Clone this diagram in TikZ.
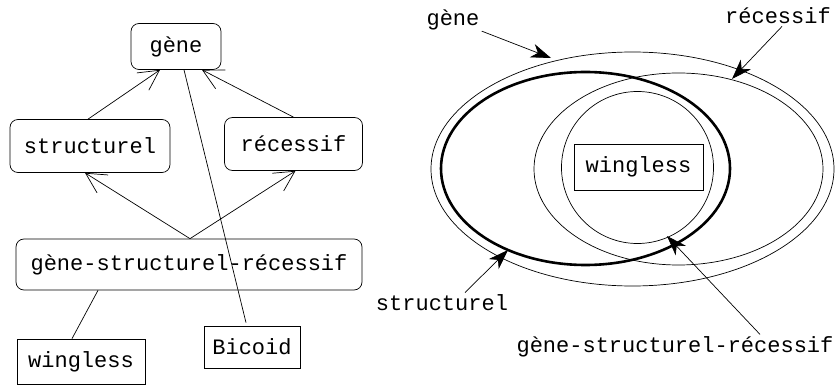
\documentclass[tikz,border=0pt]{standalone}
\usepackage{fontspec}
\setmonofont{Liberation Mono}
\usetikzlibrary{arrows.meta}

\tikzset{
  txt/.style={font=\ttfamily\fontsize{22}{26}\selectfont},
  rbox/.style={txt, draw, rounded corners=8pt, inner sep=0pt},
  sbox/.style={txt, draw, inner sep=0pt},
  lab/.style={txt, inner sep=2pt},
  isa/.style={-{Straight Barb[length=20pt,width=21pt]}},
  pointer/.style={-{Stealth[length=20pt,width=14pt,inset=6pt]}},
}

\begin{document}
\begin{tikzpicture}[x=1pt, y=-1pt, line width=0.7pt]
    \useasboundingbox (0,0) rectangle (836,385);

    % hierarchy
    \node[rbox, minimum width=90pt, minimum height=46pt] (gene) at (176,46.5) {gène};
    \node[rbox, minimum width=160pt, minimum height=53pt] (struct) at (90,146) {structurel};
    \node[rbox, minimum width=138pt, minimum height=53pt] (recess) at (293.5,144) {récessif};
    \node[rbox, minimum width=346pt, minimum height=51pt] (gsr) at (189,264.5) {gène-structurel-récessif};
    \node[sbox, minimum width=128pt, minimum height=45pt] (wing) at (81,361.5) {wingless};
    \node[sbox, minimum width=96pt, minimum height=42pt] (bicoid) at (252,347) {Bicoid};

    \draw[isa] ([xshift=-2pt]struct.north) -- ([xshift=-16pt]gene.south);
    \draw[isa] (recess.north) -- ([xshift=26pt]gene.south);
    \draw[isa] ([xshift=1pt]gsr.north) -- ([xshift=-5pt]struct.south);
    \draw[isa] ([xshift=1pt]gsr.north) -- ([xshift=2pt]recess.south);
    \draw ([xshift=8pt]gene.south) -- ([xshift=-6pt,yshift=3pt]bicoid.north);
    \draw ([xshift=-91pt]gsr.south) -- ([xshift=-9pt]wing.north);

    % sets
    \draw (632.5,169) ellipse [x radius=201.5, y radius=117];
    \draw[line width=2.6pt] (585.5,168.5) ellipse [x radius=144.5, y radius=96.5];
    \draw (678.5,169) ellipse [x radius=144.5, y radius=96];
    \draw (637.5,167.5) circle [radius=76];
    \node[sbox, minimum width=129pt, minimum height=46pt] (wingR) at (638.5,167) {wingless};

    \node[lab] (glab) at (453,20) {gène};
    \node[lab] (rlab) at (778,16) {récessif};
    \node[lab] (slab) at (442,303) {structurel};
    \node[lab] (gsrlab) at (675,347) {gène-structurel-récessif};

    \coordinate (gtip) at (551,58);
    \coordinate (rtip) at (732,79);
    \coordinate (stip) at (508,250);
    \coordinate (gsrtip) at (667,236);

    \draw[pointer] (glab) -- (gtip);
    \draw[pointer] ([xshift=4pt]rlab.south) -- (rtip);
    \draw[pointer] ([xshift=23pt]slab.north) -- (stip);
    \draw[pointer] ([xshift=85pt]gsrlab.north) -- (gsrtip);
\end{tikzpicture}
\end{document}
